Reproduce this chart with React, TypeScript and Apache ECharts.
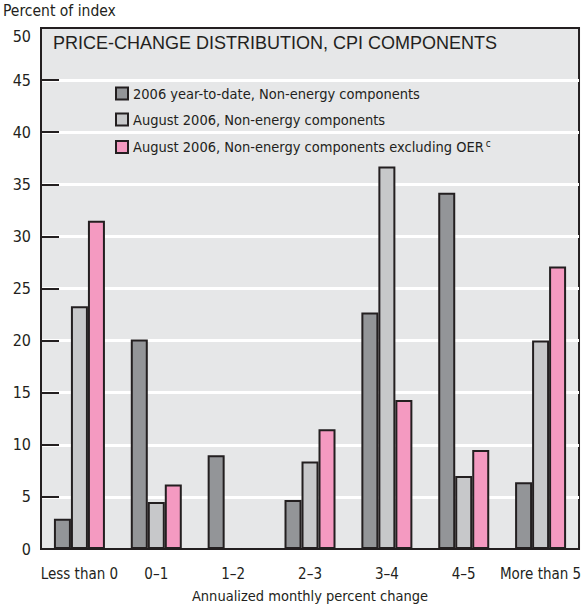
import React, { useEffect, useRef } from "react";
import * as echarts from "echarts";

const categories = ["Less than 0", "0–1", "1–2", "2–3", "3–4", "4–5", "More than 5"];
const ytdNonEnergy = [2.9, 20.1, 9.0, 4.7, 22.7, 34.2, 6.4];
const augNonEnergy = [23.3, 4.5, 0, 8.4, 36.7, 7.0, 20.0];
const augExOER = [31.5, 6.2, 0, 11.5, 14.3, 9.5, 27.1];
const seriesNames = [
  "2006 year-to-date, Non-energy components",
  "August 2006, Non-energy components",
  "August 2006, Non-energy components excluding OER",
];
const yTicks = [0, 5, 10, 15, 20, 25, 30, 35, 40, 45];

const FONT = "'DejaVu Sans Condensed', 'Liberation Sans Narrow', 'Liberation Sans', sans-serif";
const INK = "#231f20";

export default function App() {
  const ref = useRef<HTMLDivElement>(null);
  useEffect(() => {
    if (!ref.current) return;
    const chart = echarts.init(ref.current, null, { renderer: "svg" });
    const colors = ["#939598", "#c7c8ca", "#f49ac1"];
    const data = [ytdNonEnergy, augNonEnergy, augExOER];
    chart.setOption({
      animation: false,
      textStyle: { fontFamily: FONT, color: INK },
      grid: {
        left: 41,
        right: 2,
        top: 28,
        bottom: 56,
        show: true,
        backgroundColor: "#e6e7e8",
        borderColor: INK,
        borderWidth: 2,
      },
      legend: {
        orient: "vertical",
        left: 110,
        top: 81,
        itemWidth: 12,
        itemHeight: 12,
        itemGap: 11,
        icon: "rect",
        textStyle: {
          fontFamily: FONT,
          fontSize: 14.5,
          color: INK,
          rich: {
            sup: { fontSize: 10, verticalAlign: "top", padding: [0, 0, 8, 2], fontFamily: FONT, color: INK },
          },
        },
        formatter: (name: string) =>
          name.endsWith("excluding OER") ? name + "{sup|c}" : name,
        data: seriesNames,
      },
      graphic: [
        {
          type: "text",
          left: 3,
          top: 3,
          style: { text: "Percent of index", fontFamily: FONT, fontSize: 15.5, fill: INK },
        },
        {
          type: "text",
          left: 53,
          top: 34,
          style: {
            text: "PRICE-CHANGE DISTRIBUTION, CPI COMPONENTS",
            fontFamily: "'Liberation Sans', Arial, sans-serif",
            fontSize: 18,
            fill: INK,
          },
        },
      ],
      xAxis: {
        type: "category",
        data: categories,
        axisLine: { lineStyle: { color: INK, width: 2 } },
        axisTick: { show: false },
        axisLabel: { fontFamily: FONT, fontSize: 15, color: INK, margin: 17, interval: 0 },
        name: "Annualized monthly percent change",
        nameLocation: "middle",
        nameGap: 39,
        nameTextStyle: { fontFamily: FONT, fontSize: 14.5, color: INK },
      },
      yAxis: {
        type: "value",
        min: 0,
        max: 50,
        interval: 5,
        axisLine: { show: true, lineStyle: { color: INK, width: 2 } },
        axisTick: {
          show: true,
          inside: true,
          length: 18,
          customValues: yTicks,
          lineStyle: { color: INK, width: 2 },
        },
        axisLabel: {
          fontFamily: FONT,
          fontSize: 16,
          color: INK,
          margin: 10,
          formatter: (v: number) => (v === 50 ? "{top|50}" : String(v)),
          rich: {
            top: { fontFamily: FONT, fontSize: 16, color: INK, padding: [16, 0, 0, 0] },
          },
        },
        splitLine: { show: true, lineStyle: { color: "#ffffff", width: 3 } },
      },
      series: seriesNames.map((name, i) => ({
        name,
        type: "bar",
        data: data[i],
        barWidth: 17,
        barGap: "0%",
        itemStyle: { color: colors[i], borderColor: INK, borderWidth: 2 },
      })),
    });
    return () => chart.dispose();
  }, []);
  return <div ref={ref} style={{ width: 584, height: 608, position: "absolute", left: 0, top: 0 }} />;
}
